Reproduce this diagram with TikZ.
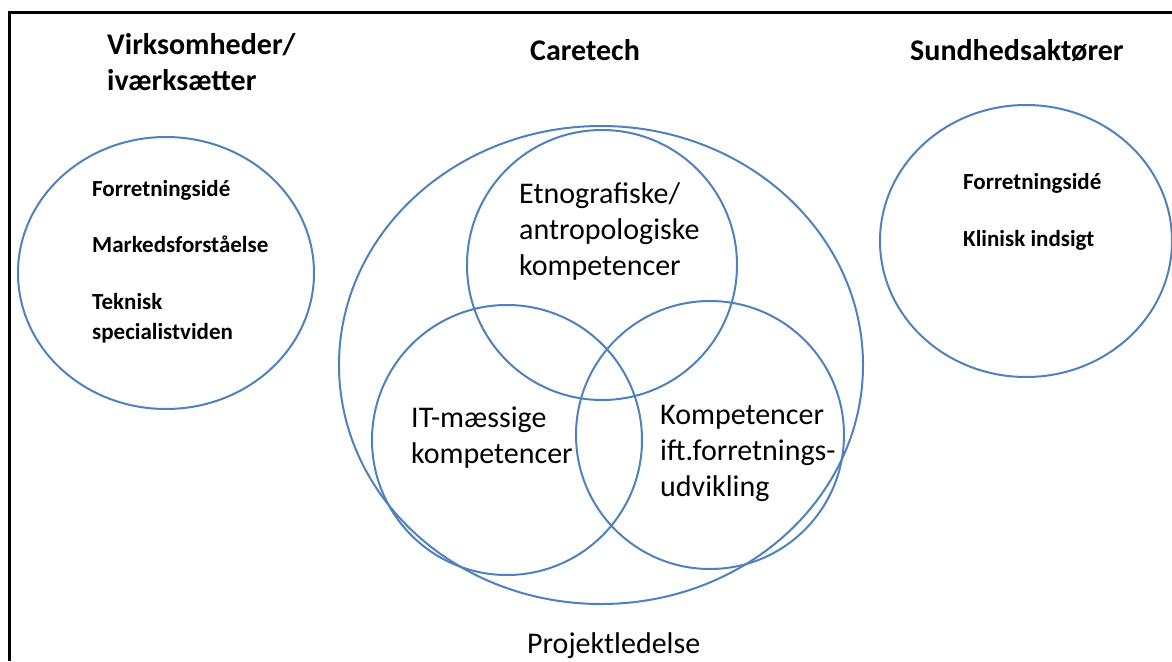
\documentclass[tikz,border=0pt]{standalone}
\usepackage{fontspec}
\setmainfont{Carlito}
\definecolor{ringblue}{RGB}{79,129,189}

\begin{document}
\begin{tikzpicture}[x=1pt, y=-1pt,
        ring/.style={draw=ringblue, line width=2pt},
        head/.style={font=\fontsize{30}{36}\selectfont\bfseries, align=left, inner sep=0pt},
        item/.style={font=\fontsize{23}{30}\selectfont\bfseries, align=left, inner sep=0pt},
        komp/.style={font=\fontsize{30}{36}\selectfont, align=left, inner sep=0pt}]
        \useasboundingbox (0,0) rectangle (1172,661);
        % frame
        \draw [line width=3pt] (9,661) -- (9,13) -- (1172,13);
        % circles
        \draw [ring] (166,273) ellipse (148 and 136);
        \draw [ring] (1026,241) ellipse (146 and 136);
        \draw [ring] (601,365) ellipse (262 and 239);
        \draw [ring] (602,265) circle (135);
        \draw [ring] (507,440) circle (135);
        \draw [ring] (710,435) circle (134);
        % headings
        \node [head, anchor=north west] (virk) at (107,33) {Virksomheder/\\iværksætter};
        \node [head, anchor=base west] (caretech) at (530,60) {Caretech};
        \node [head, anchor=base west] (sundhed) at (910,60) {Sundhedsaktører};
        % left circle
        \node [item, anchor=base west] (forrv) at (92,196) {Forretningsidé};
        \node [item, anchor=base west] (marked) at (92,252) {Markedsforståelse};
        \node [item, anchor=north west] (teknisk) at (92,293) {Teknisk\\specialistviden};
        % right circle
        \node [item, anchor=base west] (forrs) at (963,189) {Forretningsidé};
        \node [item, anchor=base west] (klinisk) at (963,246) {Klinisk indsigt};
        % caretech circles
        \node [komp, anchor=north west] (etno) at (519,182) {Etnografiske/\\antropologiske\\kompetencer};
        \node [komp, anchor=north west] (itkomp) at (411,407) {IT-mæssige\\kompetencer};
        \node [komp, anchor=north west] (forrkomp) at (660,405) {Kompetencer\\ift.forretnings-\\udvikling};
        \node [komp, anchor=base west] (projekt) at (527,653) {Projektledelse};
\end{tikzpicture}
\end{document}
